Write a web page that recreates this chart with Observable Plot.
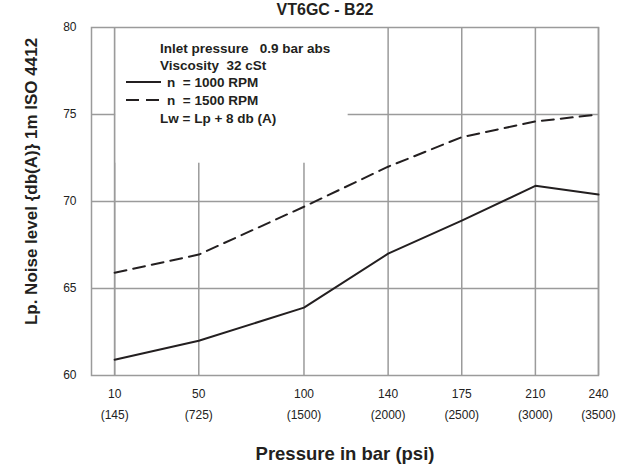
<!DOCTYPE html>
<html>
<head>
<meta charset="utf-8">
<script src="https://cdn.jsdelivr.net/npm/d3@7"></script>
<script src="https://cdn.jsdelivr.net/npm/@observablehq/plot@0.6"></script>
<style>
  html, body { margin: 0; padding: 0; background: #fff; }
  svg text { font-family: "Liberation Sans", Arial, Helvetica, sans-serif; }
</style>
</head>
<body>
<div id="chart"></div>
<script>
// ---- data ----
const pressureBar = [10, 50, 100, 140, 175, 210, 240];
const pressurePsi = ["(145)", "(725)", "(1500)", "(2000)", "(2500)", "(3000)", "(3500)"];
const noise1000 = [60.9, 62.0, 63.9, 67.0, 68.9, 70.9, 70.4];
const noise1500 = [65.9, 66.95, 69.7, 72.0, 73.7, 74.6, 75.0];
const yTicks = [60, 65, 70, 75, 80];
const yGrid = [65, 70, 75];
const title = "VT6GC - B22";
const xLabel = "Pressure in bar (psi)";
const yLabel = "Lp. Noise level {db(A)} 1m ISO 4412";
const legendNotes = ["Inlet pressure   0.9 bar abs", "Viscosity  32 cSt"];
const seriesNames = ["n  = 1000 RPM", "n  = 1500 RPM"];
const legendFoot = "Lw = Lp + 8 db (A)";

const rows1000 = pressureBar.map((p, i) => ({p, v: noise1000[i]}));
const rows1500 = pressureBar.map((p, i) => ({p, v: noise1500[i]}));
const psiOf = new Map(pressureBar.map((p, i) => [p, pressurePsi[i]]));

const grid = "#9b9b9b";
const ink = "#231f20";
const legendBox = {x1: 10.5, x2: 121, y1: 72.2, y2: 80};

const plot = Plot.plot({
  width: 627,
  height: 467,
  marginLeft: 91,
  marginRight: 29,
  marginTop: 27,
  marginBottom: 92,
  style: {fontFamily: "Liberation Sans, Arial, sans-serif", background: "#fff"},
  x: {domain: [-1, 240]},
  y: {domain: [60, 80]},
  marks: [
    Plot.ruleY(yGrid, {stroke: grid, strokeWidth: 1.5}),
    Plot.ruleX(pressureBar, {stroke: grid, strokeWidth: 1.5}),
    Plot.rect([legendBox], {x1: "x1", x2: "x2", y1: "y1", y2: "y2", fill: "#fff"}),
    Plot.ruleX([pressureBar[0]], {stroke: grid, strokeWidth: 1.5}),
    Plot.frame({stroke: grid, strokeWidth: 1.5}),
    Plot.line(rows1000, {x: "p", y: "v", stroke: ink, strokeWidth: 2}),
    Plot.line(rows1500, {x: "p", y: "v", stroke: ink, strokeWidth: 2, strokeDasharray: "12,7"}),
    Plot.axisY({ticks: yTicks, tickSize: 0, tickPadding: 15, fontSize: 12, fill: "#222", label: null}),
    Plot.axisX({ticks: pressureBar, tickSize: 0, tickPadding: 14, fontSize: 12, fill: "#222", label: null, tickFormat: d => String(d)}),
    Plot.axisX({ticks: pressureBar, tickSize: 0, tickPadding: 35, fontSize: 12, fill: "#222", label: null, tickFormat: d => psiOf.get(d)}),
    Plot.text([title], {frameAnchor: "top", textAnchor: "middle", dx: -20, dy: -18, fontSize: 16, fontWeight: "bold", fill: ink, lineAnchor: "middle"}),
    Plot.text([xLabel], {frameAnchor: "bottom", textAnchor: "middle", dx: 0, dy: 79, fontSize: 18.5, fontWeight: "bold", fill: ink, lineAnchor: "middle"}),
    Plot.text([yLabel], {frameAnchor: "left", textAnchor: "middle", dx: -60, dy: -20, rotate: -90, fontSize: 17, fontWeight: "bold", fill: ink, lineAnchor: "middle"})
  ]
});

// ---- legend (annotation block) ----
const svg = d3.select(plot);
const lg = svg.append("g").attr("font-size", 13.5).attr("font-weight", "bold").attr("fill", ink)
  .attr("text-anchor", "start").style("white-space", "pre");
lg.append("text").attr("x", 160).attr("y", 48).attr("dy", "0.35em").text(legendNotes[0]);
lg.append("text").attr("x", 160).attr("y", 65).attr("dy", "0.35em").text(legendNotes[1]);
lg.append("line").attr("x1", 126).attr("x2", 161).attr("y1", 82).attr("y2", 82).attr("stroke", ink).attr("stroke-width", 2);
lg.append("text").attr("x", 167).attr("y", 82).attr("dy", "0.35em").text(seriesNames[0]);
lg.append("line").attr("x1", 126).attr("x2", 161).attr("y1", 100).attr("y2", 100).attr("stroke", ink).attr("stroke-width", 2).attr("stroke-dasharray", "13,7");
lg.append("text").attr("x", 167).attr("y", 100).attr("dy", "0.35em").text(seriesNames[1]);
lg.append("text").attr("x", 160).attr("y", 118).attr("dy", "0.35em").text(legendFoot);

document.getElementById("chart").appendChild(plot);
</script>
</body>
</html>
